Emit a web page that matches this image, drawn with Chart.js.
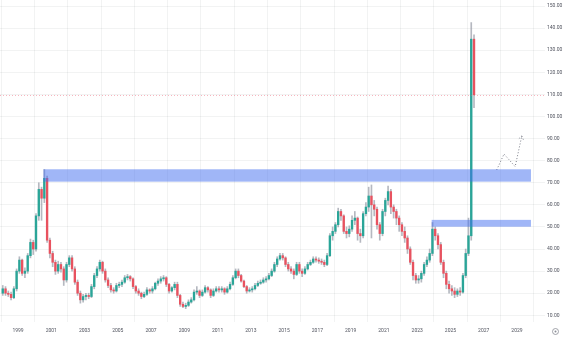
<!DOCTYPE html>
<html>
<head>
<meta charset="utf-8">
<script src="https://cdn.jsdelivr.net/npm/chart.js@4.4.1/dist/chart.umd.min.js"></script>
<style>
  html, body { margin: 0; padding: 0; background: #ffffff; }
  #wrap { width: 565px; height: 337px; position: relative; }
</style>
</head>
<body>
<div id="wrap"><canvas id="myChart"></canvas></div>
<script>
// Two-month candles, starting Jan 1998 (open of the first candle below)
const firstOpen = 20;
const closes = [
  22, 20, 19.5, 18, 22, 30,          // 1998
  35, 29, 30, 37, 43, 40,            // 1999
  55, 67, 63, 72, 44, 38,            // 2000
  34, 30, 33, 31, 26, 33,            // 2001
  36, 31, 25, 20, 17, 18.5,          // 2002
  19, 18.5, 23, 28, 31, 34,          // 2003
  30, 26, 23.5, 21.5, 21, 23.5,      // 2004
  24, 25, 27, 27.5, 26.5, 23,        // 2005
  21, 20, 18.5, 19.5, 21.5, 21,      // 2006
  22, 24.5, 25.5, 26.5, 27, 24,      // 2007
  21, 22.5, 24, 19, 15, 14,          // 2008
  14.5, 16, 17, 20.5, 21, 19,        // 2009
  20.5, 22.5, 21.5, 19, 21, 22,      // 2010
  21.5, 22, 20.5, 22, 24, 27,        // 2011
  30, 28, 25.5, 23, 21, 21.5,        // 2012
  22, 23.5, 24.5, 25, 26, 26.5,      // 2013
  28, 30, 33, 35.5, 37, 36,          // 2014
  33, 31, 30, 28.5, 33, 30,          // 2015
  29, 31, 33, 34, 35.5, 35,          // 2016
  34.5, 34, 33, 37, 46, 48,          // 2017
  51, 57, 55, 48, 47, 49,            // 2018
  53, 54, 47, 46, 56, 59,            // 2019
  64, 60, 58, 51, 47, 57,            // 2020
  62, 66, 59, 57, 54, 51,            // 2021
  48, 45, 40, 34, 28, 26,            // 2022
  26.5, 29, 33, 35, 38, 49,          // 2023
  46, 42, 34, 29, 24, 22,            // 2024
  21, 19.5, 21, 20.5, 28, 38,        // 2025
  46, 135, 109.8                     // 2026
];
const highs = [
  23.5, 23, 21, 20.5, 23, 31,
  36.5, 35.5, 31.5, 38, 44.5, 44,
  56, 70, 68, 76, 73, 45,
  39, 35, 34.5, 34, 32, 34,
  37, 37, 32, 26, 21, 19.5,
  20, 20, 24, 29, 32, 35,
  34.5, 31, 27, 24.5, 22.5, 24.5,
  25, 26, 28, 28.5, 28, 27,
  23.5, 22, 20.5, 20.5, 22.5, 22,
  23, 25, 26.5, 27.5, 28, 27.5,
  24.5, 23, 25, 25, 19.5, 16,
  15.5, 17, 18, 21.5, 23, 21.5,
  21.5, 23.5, 23, 22, 22, 23,
  23, 23, 22.5, 23, 25, 28,
  31, 31, 28.5, 26, 23.5, 22.5,
  23, 24.5, 25.5, 26, 27, 27.5,
  29, 31, 34, 36.5, 38, 38,
  36.5, 34, 32, 31, 34, 34,
  31, 32, 34, 35, 36.5, 36.5,
  36, 35.5, 35, 38, 47, 50,
  52, 58.5, 58, 55.5, 50, 50.5,
  55, 57, 54.5, 49, 57, 61,
  68, 69, 62, 59, 52, 58,
  63, 68.5, 67, 60, 58, 55,
  52, 50, 46, 41, 35, 29,
  28, 30, 34, 36.5, 40, 52,
  50, 47, 43, 35, 30, 25.5,
  23.5, 22.5, 22, 22.5, 29, 40,
  54, 142.5, 137
];
const lows = [
  19, 19, 18.5, 17, 17.5, 21,
  29, 28, 27, 29, 36, 37.5,
  39, 53, 53, 61, 43, 36,
  32, 28.5, 29, 29.5, 23.5, 25,
  32, 30, 24, 19, 15.5, 16,
  17, 17.5, 18, 22, 27, 30,
  29, 25, 22.5, 20.5, 20, 20.5,
  22.5, 23, 24.5, 26, 25.5, 22,
  20, 19, 17.5, 18, 19, 20,
  20, 21.5, 23.5, 24.5, 25.5, 23,
  20, 20.5, 21.5, 18, 14, 13.5,
  13, 14, 15.5, 16.5, 19.5, 18,
  18.5, 20, 20.5, 18, 18.5, 20.5,
  20.5, 20.5, 19.5, 20, 21.5, 23.5,
  26.5, 27, 25, 22.5, 20, 20.5,
  20.5, 21.5, 23, 24, 24.5, 25,
  26, 27.5, 29.5, 32, 35, 35,
  32, 30, 29, 26.5, 28, 29,
  27.5, 28.5, 30.5, 32.5, 33.5, 34,
  33.5, 33, 32, 32.5, 36.5, 44,
  47, 50, 53, 47, 45, 45.5,
  48, 51, 44, 43, 45, 55,
  57, 45, 55, 49, 44, 46,
  55, 60, 56, 54, 51, 48,
  46, 43, 38, 33, 26, 24.5,
  24.5, 25, 28, 32, 34, 37,
  44, 40, 33, 27, 22, 20,
  19, 18, 18.5, 19, 20, 27,
  37, 44, 104
];

// Axis ticks
const yearTicks = [1999, 2001, 2003, 2005, 2007, 2009, 2011, 2013, 2015, 2017, 2019, 2021, 2023, 2025, 2027, 2029];
const priceTicks = [10, 20, 30, 40, 50, 60, 70, 80, 90, 100, 110, 120, 130, 140, 150];

// Blue zones (start year, end year, low, high)
const zoneStart = [2000.53, 2023.87];
const zoneEnd = [2029.84, 2029.84];
const zoneLow = [70.5, 50.1];
const zoneHigh = [76.1, 53.2];

// Dotted projection path
const projX = [2027.78, 2028.22, 2028.89, 2029.29];
const projY = [75.8, 83, 77.3, 91.2];

const GREEN = '#2aa598';
const RED = '#e8525f';

// Build candles from the arrays
let bodies = [];
let wicks = [];
let bodyColors = [];
let prev = firstOpen;
closes.forEach((c, i) => {
  let x = 1998 + (i + 0.5) / 6;
  bodies.push({ x: x, y: [prev, c] });
  wicks.push({ x: x, y: [lows[i], highs[i]] });
  bodyColors.push(c >= prev ? GREEN : RED);
  prev = c;
});

let projData = projX.map((x, i) => ({ x: x, y: projY[i] }));

// Zones, price line, arrow head and the little settings icon
const overlayPlugin = {
  id: 'overlay',
  afterDatasetsDraw(chart) {
    const ctx = chart.ctx;
    const xs = chart.scales.x;
    const ys = chart.scales.y;
    const area = chart.chartArea;

    ctx.save();
    // zones
    zoneStart.forEach((s, i) => {
      let x1 = xs.getPixelForValue(s);
      let x2 = xs.getPixelForValue(zoneEnd[i]);
      let y1 = ys.getPixelForValue(zoneHigh[i]);
      let y2 = ys.getPixelForValue(zoneLow[i]);
      ctx.fillStyle = 'rgba(66,110,240,0.5)';
      ctx.fillRect(x1, y1, x2 - x1, y2 - y1);
    });

    // last price line
    let py = Math.round(ys.getPixelForValue(closes[closes.length - 1])) + 0.5;
    ctx.strokeStyle = 'rgba(235,90,110,0.45)';
    ctx.lineWidth = 1;
    ctx.setLineDash([1, 2]);
    ctx.beginPath();
    ctx.moveTo(area.left, py);
    ctx.lineTo(area.right, py);
    ctx.stroke();

    // arrow head on the projection
    let n = projX.length;
    let tx = xs.getPixelForValue(projX[n - 1]);
    let ty = ys.getPixelForValue(projY[n - 1]);
    let fx = xs.getPixelForValue(projX[n - 2]);
    let fy = ys.getPixelForValue(projY[n - 2]);
    let ang = Math.atan2(ty - fy, tx - fx);
    ctx.strokeStyle = '#787b86';
    ctx.beginPath();
    [-0.6, 0.6].forEach(d => {
      ctx.moveTo(tx, ty);
      ctx.lineTo(tx - 6 * Math.cos(ang + d), ty - 6 * Math.sin(ang + d));
    });
    ctx.stroke();
    ctx.setLineDash([]);

    // settings icon bottom right
    ctx.strokeStyle = '#8a8d96';
    ctx.lineWidth = 0.8;
    ctx.beginPath();
    ctx.arc(555.5, 331.5, 3, 0, Math.PI * 2);
    ctx.stroke();
    ctx.fillStyle = '#8a8d96';
    ctx.beginPath();
    ctx.arc(555.5, 331.5, 1, 0, Math.PI * 2);
    ctx.fill();
    ctx.restore();
  }
};

// no extra room for the first and last tick labels
function fixPadding(s) {
  s.paddingTop = 0;
  s.paddingBottom = 0;
  s.paddingLeft = 0;
  s.paddingRight = 0;
}

const config = {
  type: 'bar',
  data: {
    datasets: [
      {
        label: 'wicks',
        data: wicks,
        backgroundColor: 'rgba(150,154,165,0.7)',
        barThickness: 1,
        grouped: false,
        order: 3
      },
      {
        label: 'candles',
        data: bodies,
        backgroundColor: bodyColors,
        barThickness: 1.7,
        minBarLength: 1,
        grouped: false,
        order: 2
      },
      {
        type: 'line',
        label: 'projection',
        data: projData,
        borderColor: '#787b86',
        borderWidth: 1,
        borderDash: [1, 2],
        pointRadius: 0,
        fill: false,
        order: 1
      }
    ]
  },
  options: {
    responsive: true,
    maintainAspectRatio: false,
    animation: false,
    layout: { padding: 0 },
    plugins: {
      legend: { display: false },
      tooltip: { enabled: false }
    },
    scales: {
      x: {
        type: 'linear',
        offset: false,
        min: 1997.918,
        max: 2030.684,
        afterBuildTicks: s => { s.ticks = yearTicks.map(v => ({ value: v })); },
        afterFit: s => { s.height = 15; fixPadding(s); },
        grid: { color: 'rgba(42,46,57,0.06)', drawTicks: false },
        border: { display: false },
        ticks: {
          autoSkip: false,
          maxRotation: 0,
          padding: 6,
          color: '#50535e',
          font: { family: 'Roboto', size: 5 },
          callback: v => String(v)
        }
      },
      y: {
        position: 'right',
        min: 6.97,
        max: 152.72,
        afterBuildTicks: s => { s.ticks = priceTicks.map(v => ({ value: v })); },
        afterFit: s => { s.width = 20; fixPadding(s); },
        grid: { color: 'rgba(42,46,57,0.06)', drawTicks: false },
        border: { display: false },
        ticks: {
          padding: 2,
          color: '#50535e',
          font: { family: 'Roboto', size: 5 },
          callback: v => v.toFixed(2)
        }
      }
    }
  },
  plugins: [overlayPlugin]
};

var myChart = new Chart(document.getElementById('myChart'), config);
</script>
</body>
</html>
